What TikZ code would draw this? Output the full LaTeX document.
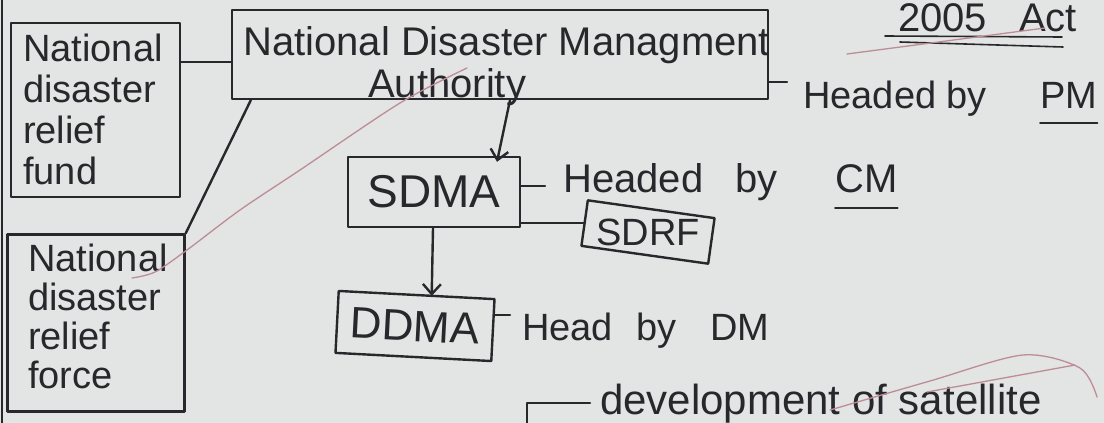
\documentclass[tikz,border=0pt]{standalone}
\usepackage{fontspec}
\setmainfont{Liberation Sans}
\usetikzlibrary{arrows.meta,calc}
\definecolor{paper}{RGB}{226,229,227}
\definecolor{ink}{RGB}{40,40,44}
\definecolor{pinkpen}{RGB}{190,140,150}
\newcommand\fsz[2]{\fontsize{#1}{#2}\selectfont}
\begin{document}
\begin{tikzpicture}[x=1pt,y=-1pt,
  inkline/.style={draw=ink,line width=2.4pt,line cap=round,line join=round},
  boxnode/.style={inkline,rectangle,inner sep=0pt,text=ink},
  txt/.style={text=ink,inner sep=0pt},
  arr/.style={inkline,-{Straight Barb[length=10pt,width=18pt,line width=2.4pt]}},
  pinkline/.style={draw=pinkpen,line width=1.3pt,line cap=round}]
\fill[paper] (0,0) rectangle (1104,423);
\useasboundingbox (0,0) rectangle (1104,423);
% page edge
\draw[inkline,line width=1.6pt] (2,-5) -- (2,430);
% boxes
\node[boxnode,minimum width=169pt,minimum height=174pt] (ndrf) at (95.5,110) {};
\node[txt,anchor=north west,align=left,font=\fsz{38}{41}] (ndrftext) at (23,34) {National\\disaster\\relief\\fund};
\node[boxnode,minimum width=177pt,minimum height=177pt] (ndrforce) at (96,323) {};
\node[txt,anchor=north west,align=left,font=\fsz{38}{39}] (ndrforcetext) at (28,244) {National\\disaster\\relief\\force};
\node[boxnode,minimum width=536pt,minimum height=89pt] (ndma) at (500,54.5) {};
\node[txt,anchor=base west,font=\fsz{40}{40}] (ndmatitle) at (243,55) {National Disaster Managment};
\node[txt,anchor=base west,font=\fsz{40}{40}] (ndmaauth) at (368,97) {Authority};
\node[boxnode,minimum width=172pt,minimum height=70pt,font=\fsz{46}{46}] (sdma) at (434,192) {SDMA};
\node[boxnode,minimum width=128pt,minimum height=46pt,rotate=-8] (sdrf) at (648,232) {};
\node[txt,font=\fsz{38}{38}] (sdrftext) at (sdrf.center) {SDRF};
\node[boxnode,minimum width=156pt,minimum height=62pt,rotate=-3,font=\fsz{44}{44}] (ddma) at (415,326) {DDMA};
% labels
\node[txt,anchor=base west,font=\fsz{40}{40}] (acttext) at (898,31) {2005\hspace{32pt}Act};
\node[txt,anchor=base west,font=\fsz{38}{38}] (hpm) at (803,108) {Headed by};
\node[txt,anchor=base west,font=\fsz{38}{38}] (pm) at (1040,108) {PM};
\node[txt,anchor=base west,font=\fsz{40}{40}] (hcm) at (563,192) {Headed\hspace{32pt}by};
\node[txt,anchor=base west,font=\fsz{40}{40}] (cm) at (835,192) {CM};
\node[txt,anchor=base west,font=\fsz{38}{38}] (hdm) at (522,340) {Head\hspace{23pt}by\hspace{34pt}DM};
\node[txt,anchor=base west,font=\fsz{42}{42}] (dev) at (600,414) {development of satellite};
% dash coordinates
\coordinate (fundlink) at (183,62);
\coordinate (pmdash) at (787,82);
\coordinate (cmdash) at (545,186);
\coordinate (dmdash) at (510,315);
\coordinate (devcorner) at (527,403);
\coordinate (devend) at (590,403);
% connectors
\draw[inkline] (ndrf.east |- fundlink) -- (ndma.west |- fundlink);
\draw[inkline] ([xshift=20pt]ndma.south west) -- (ndrforce.north east);
\draw[inkline] (ndma.east |- pmdash) -- (pmdash);
\draw[arr] ([xshift=10pt]ndma.south) -- ([xshift=63pt,yshift=-6pt]sdma.north);
\draw[inkline] (sdma.east |- cmdash) -- (cmdash);
\draw[inkline] (sdma.east |- sdrf.west) -- (sdrf.west);
\draw[arr] ([xshift=-1pt]sdma.south) -- ([xshift=15pt,yshift=-2pt]ddma.north);
\draw[inkline] (ddma.east |- dmdash) -- (dmdash);
\draw[inkline] (devcorner |- 0,430) -- (devcorner) -- (devend);
% underlines
\draw[inkline,line width=1.8pt] ([yshift=-15pt]pm.base west) -- ([yshift=-15pt]pm.base east);
\draw[inkline,line width=1.8pt] ([yshift=-16pt]cm.base west) -- ([yshift=-16pt]cm.base east);
\draw[inkline,line width=1.6pt] (885,36) -- (1062,37);
\draw[inkline,line width=1.6pt] (900,42) -- (1063,47);
% stray pink pen strokes
\draw[pinkline] plot[smooth] coordinates {(132,278) (155,272) (187,250) (240,210) (300,170) (400,103) (467,68)};
\draw[pinkline] (847,54) -- (1045,28);
\draw[pinkline] plot[smooth] coordinates {(830,410) (930,381) (1023,355) (1080,368) (1097,397)};
\draw[pinkline] (927,392) -- (1075,365);
\end{tikzpicture}
\end{document}
